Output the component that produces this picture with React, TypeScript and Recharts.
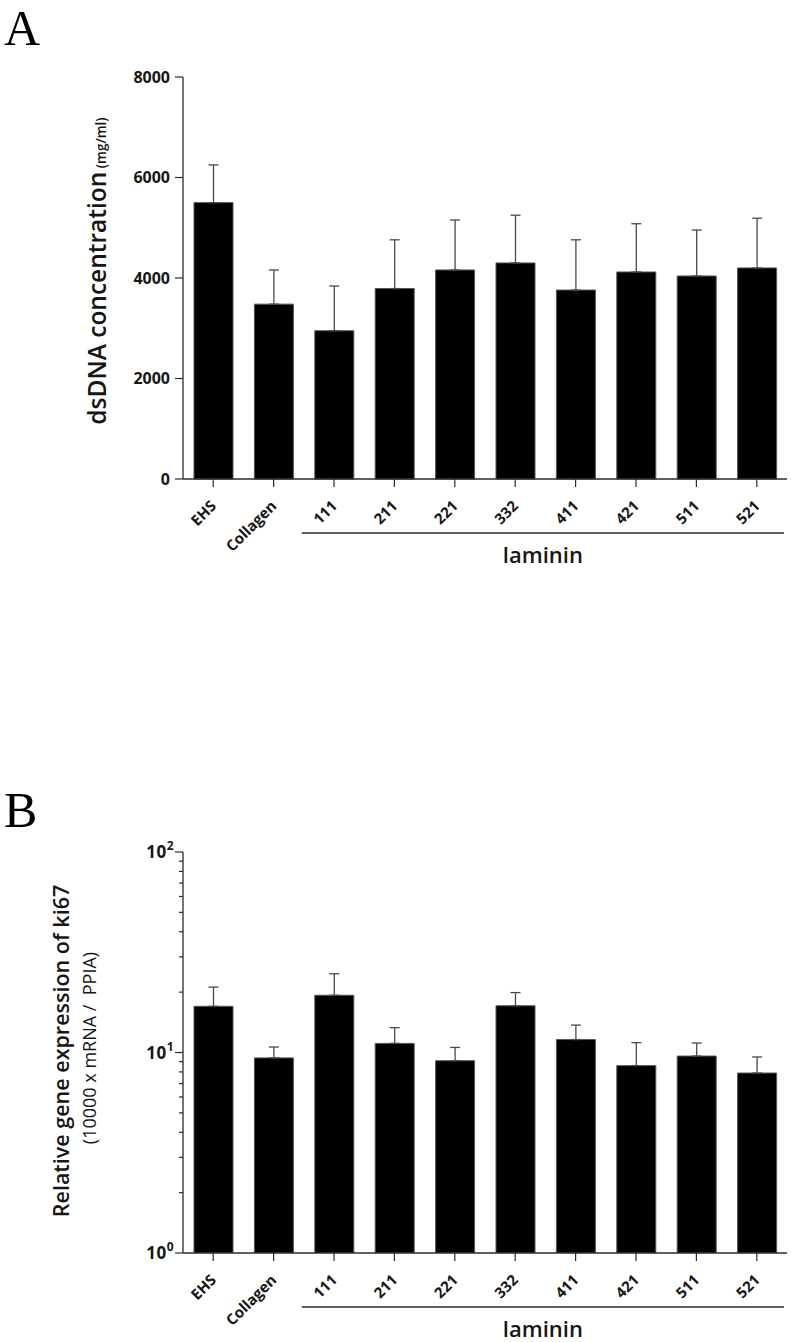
import React from "react";
import { BarChart, Bar, XAxis, YAxis, ErrorBar } from "recharts";

const categories = ["EHS", "Collagen", "111", "211", "221", "332", "411", "421", "511", "521"];

// panel A: dsDNA concentration (mg/ml), mean and upper SD
const dnaMeans = [5500, 3480, 2950, 3790, 4160, 4300, 3760, 4120, 4040, 4200];
const dnaErrors = [750, 680, 890, 970, 995, 950, 1000, 960, 915, 990];
const dnaTicks = [0, 2000, 4000, 6000, 8000];

// panel B: relative ki67 expression (log scale)
const ki67Means = [17.0, 9.4, 19.3, 11.1, 9.1, 17.1, 11.6, 8.6, 9.6, 7.9];
const ki67Errors = [4.2, 1.25, 5.4, 2.2, 1.5, 2.8, 2.1, 2.6, 1.55, 1.6];
const ki67Ticks = [1, 2, 3, 4, 5, 6, 7, 8, 9, 10, 20, 30, 40, 50, 60, 70, 80, 90, 100];

const groupLabel = "laminin";
const firstLamininIndex = 2;

const FONT = "'Open Sans', Lato, sans-serif";
const SERIF = "'Liberation Serif', 'DejaVu Serif', serif";
const AXIS = "#2b2b2b";
const TEXT = "#161616";

const WIDTH = 791;
const PLOT_LEFT = 183;
const PLOT_RIGHT = 787;
const Y_AXIS_W = 60;
const BAND = (PLOT_RIGHT - PLOT_LEFT) / categories.length;

const dnaData = categories.map((name, i) => ({
  name,
  value: dnaMeans[i],
  err: [0, dnaErrors[i]],
}));

const ki67Data = categories.map((name, i) => ({
  name,
  value: ki67Means[i],
  err: [0, ki67Errors[i]],
}));

function CategoryTick(props: any) {
  const { x, y, payload } = props;
  const ax = x + 4;
  const ay = y + 20;
  return (
    <text
      x={ax}
      y={ay}
      transform={`rotate(-45 ${ax} ${ay})`}
      textAnchor="end"
      fontFamily={FONT}
      fontWeight={700}
      fontSize={15}
      fill={TEXT}
    >
      {payload.value}
    </text>
  );
}

function LogTick(props: any) {
  const { x, y, payload } = props;
  const v = payload.value as number;
  const lg = Math.log10(v);
  const exp = Math.round(lg);
  const major = Math.abs(lg - exp) < 1e-9;
  const len = major ? 8 : 4;
  return (
    <g>
      <line x1={x - len} x2={x} y1={y} y2={y} stroke={AXIS} strokeWidth={1.2} />
      {major && (
        <text
          x={x - 9}
          y={y + 6}
          textAnchor="end"
          fontFamily={FONT}
          fontWeight={700}
          fontSize={17}
          letterSpacing={0.5}
          fill={TEXT}
        >
          10
          <tspan dy={-8} fontSize={12}>
            {exp}
          </tspan>
        </text>
      )}
    </g>
  );
}

function GroupBracket({ axisY }: { axisY: number }) {
  const x1 = PLOT_LEFT + firstLamininIndex * BAND - 2;
  const x2 = PLOT_RIGHT - 3;
  return (
    <g>
      <line x1={x1} x2={x2} y1={axisY + 54} y2={axisY + 54} stroke={AXIS} strokeWidth={1.3} />
      <text
        x={(x1 + x2) / 2}
        y={axisY + 84}
        textAnchor="middle"
        fontFamily={FONT}
        fontWeight={600}
        fontSize={22}
        fill={TEXT}
      >
        {groupLabel}
      </text>
    </g>
  );
}

const overlay: React.CSSProperties = {
  position: "absolute",
  left: 0,
  top: 0,
  pointerEvents: "none",
};

function PanelA() {
  const H = 600;
  const axisY = 479;
  return (
    <div style={{ position: "absolute", left: 0, top: 0, width: WIDTH, height: H }}>
      <BarChart
        width={WIDTH}
        height={H}
        data={dnaData}
        margin={{ top: 77, right: WIDTH - PLOT_RIGHT, bottom: H - axisY - 60, left: PLOT_LEFT - Y_AXIS_W }}
      >
        <XAxis
          dataKey="name"
          interval={0}
          height={60}
          tickSize={8}
          tickMargin={0}
          tick={<CategoryTick />}
          axisLine={{ stroke: AXIS, strokeWidth: 1.3 }}
          tickLine={{ stroke: AXIS, strokeWidth: 1.2 }}
        />
        <YAxis
          type="number"
          width={Y_AXIS_W}
          domain={[0, 8000]}
          ticks={dnaTicks}
          interval={0}
          tickSize={8}
          tickMargin={5}
          axisLine={{ stroke: AXIS, strokeWidth: 1.3 }}
          tickLine={{ stroke: AXIS, strokeWidth: 1.2 }}
          tick={{ fontFamily: FONT, fontWeight: 700, fontSize: 16, fill: TEXT }}
        />
        <Bar dataKey="value" fill="#000" stroke="#555" strokeWidth={1} barSize={39} isAnimationActive={false}>
          <ErrorBar dataKey="err" direction="y" width={5} stroke="#4a4a4a" strokeWidth={1.3} isAnimationActive={false} />
        </Bar>
      </BarChart>
      <svg width={WIDTH} height={H} style={overlay}>
        <text x={4} y={45} fontFamily={SERIF} fontSize={50} fill="#000">
          A
        </text>
        <text
          transform="translate(106,271) rotate(-90)"
          textAnchor="middle"
          fontFamily={FONT}
          fontWeight={600}
          fill={TEXT}
        >
          <tspan fontSize={24.5}>dsDNA concentration</tspan>
          <tspan fontSize={13.5}> (mg/ml)</tspan>
        </text>
        <GroupBracket axisY={axisY} />
      </svg>
    </div>
  );
}

function PanelB() {
  const TOP = 700;
  const H = 642;
  const plotTop = 152;
  const axisY = 553;
  return (
    <div style={{ position: "absolute", left: 0, top: TOP, width: WIDTH, height: H }}>
      <BarChart
        width={WIDTH}
        height={H}
        data={ki67Data}
        margin={{ top: plotTop, right: WIDTH - PLOT_RIGHT, bottom: H - axisY - 60, left: PLOT_LEFT - Y_AXIS_W }}
      >
        <XAxis
          dataKey="name"
          interval={0}
          height={60}
          tickSize={8}
          tickMargin={0}
          tick={<CategoryTick />}
          axisLine={{ stroke: AXIS, strokeWidth: 1.3 }}
          tickLine={{ stroke: AXIS, strokeWidth: 1.2 }}
        />
        <YAxis
          type="number"
          scale="log"
          width={Y_AXIS_W}
          domain={[1, 100]}
          allowDataOverflow
          ticks={ki67Ticks}
          interval={0}
          tickSize={0}
          tickMargin={0}
          tickLine={false}
          axisLine={{ stroke: AXIS, strokeWidth: 1.3 }}
          tick={<LogTick />}
        />
        <Bar dataKey="value" fill="#000" stroke="#555" strokeWidth={1} barSize={39} isAnimationActive={false}>
          <ErrorBar dataKey="err" direction="y" width={5} stroke="#4a4a4a" strokeWidth={1.3} isAnimationActive={false} />
        </Bar>
      </BarChart>
      <svg width={WIDTH} height={H} style={overlay}>
        <text x={4} y={127} fontFamily={SERIF} fontSize={50} fill="#000">
          B
        </text>
        <text
          transform="translate(69,351) rotate(-90)"
          textAnchor="middle"
          fontFamily={FONT}
          fontWeight={600}
          fontSize={21.5}
          fill={TEXT}
        >
          Relative gene expression of ki67
        </text>
        <text
          transform="translate(96,348) rotate(-90)"
          textAnchor="middle"
          fontFamily={FONT}
          fontSize={18}
          fill={TEXT}
          style={{ whiteSpace: "pre" }}
        >
          (10000 x mRNA /  PPIA)
        </text>
        <GroupBracket axisY={axisY} />
      </svg>
    </div>
  );
}

export default function App() {
  return (
    <div style={{ position: "absolute", left: 0, top: 0, width: WIDTH, height: 1342, background: "#fff" }}>
      <PanelA />
      <PanelB />
    </div>
  );
}
